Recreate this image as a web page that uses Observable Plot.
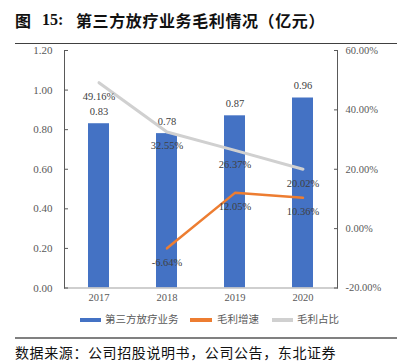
<!DOCTYPE html>
<html><head><meta charset="utf-8">
<script src="https://cdn.jsdelivr.net/npm/d3@7"></script>
<script src="https://cdn.jsdelivr.net/npm/@observablehq/plot@0.6"></script>
<style>
body{margin:0;background:#fff;}
#wrap{position:relative;width:402px;height:361px;overflow:hidden;font-family:"Noto Sans CJK SC",sans-serif;}
.abs{position:absolute;white-space:nowrap;line-height:1;}
#chart{position:absolute;left:0;top:44px;}
.sw{position:absolute;height:4px;}
.lg{position:absolute;font-size:10.5px;color:#595959;top:313.5px;line-height:1;white-space:nowrap;}
</style></head><body>
<div id="wrap">
  <div class="abs" style="left:15px;top:11.5px;font-size:16px;font-weight:bold;color:#111;">图</div>
  <div class="abs" style="left:42px;top:12px;font-size:16px;font-weight:bold;font-family:'Liberation Serif',serif;color:#111;">15:</div>
  <div class="abs" style="left:76px;top:11.5px;font-size:16px;font-weight:bold;color:#111;letter-spacing:0.6px;">第三方放疗业务毛利情况（亿元）</div>
  <div class="abs" style="left:15px;top:42.5px;width:382px;height:1.5px;background:#404040;"></div>
  <div id="chart"></div>
  <div class="sw" style="left:80px;top:317.5px;width:21px;background:#4472C4;"></div>
  <div class="lg" style="left:105px;">第三方放疗业务</div>
  <div class="sw" style="left:190px;top:317.5px;width:22px;background:#ED7D31;"></div>
  <div class="lg" style="left:217px;">毛利增速</div>
  <div class="sw" style="left:272px;top:317.5px;width:21px;background:#D0D0D0;"></div>
  <div class="lg" style="left:297px;">毛利占比</div>
  <div class="abs" style="left:15px;top:337px;width:382px;height:1.5px;background:#808080;"></div>
  <div class="abs" style="left:15px;top:345px;font-size:14px;letter-spacing:0.6px;color:#111;">数据来源：公司招股说明书，公司公告，东北证券</div>
</div>
<script>
const years = ["2017", "2018", "2019", "2020"];
const grossProfit = [0.83, 0.78, 0.87, 0.96];
const growthPct = [null, -6.64, 12.05, 10.36];
const sharePct = [49.16, 32.55, 26.37, 20.02];
const leftTicks = [0, 0.2, 0.4, 0.6, 0.8, 1.0, 1.2];
const rightTicks = [-20, 0, 20, 40, 60];

const toY = p => (p + 20) / 80 * 1.2;
const barData = years.map((y, i) => ({year: y, v: grossProfit[i]}));
const growthData = years.map((y, i) => ({year: y, p: growthPct[i]})).filter(d => d.p != null);
const shareData = years.map((y, i) => ({year: y, p: sharePct[i]}));

const chart = Plot.plot({
  width: 402,
  height: 266,
  marginLeft: 64,
  marginRight: 65,
  marginTop: 6,
  marginBottom: 22.5,
  style: {fontFamily: "'Liberation Serif', serif", fontSize: "10.5px", background: "transparent"},
  x: {domain: years, paddingInner: 0.69, paddingOuter: 0.345, label: null},
  y: {domain: [0, 1.2], label: null},
  marks: [
    Plot.barY(barData, {x: "year", y: "v", fill: "#4472C4"}),
    Plot.ruleY([0], {stroke: "#bfbfbf", strokeWidth: 1.5}),
    Plot.frame({anchor: "left", stroke: "#595959"}),
    Plot.frame({anchor: "right", stroke: "#595959"}),
    Plot.line(shareData, {x: "year", y: d => toY(d.p), stroke: "#D0D0D0", strokeWidth: 3}),
    Plot.line(growthData, {x: "year", y: d => toY(d.p), stroke: "#ED7D31", strokeWidth: 2.5}),
    Plot.text(barData, {x: "year", y: "v", text: d => d.v.toFixed(2), dy: -12, fill: "#404040"}),
    Plot.text(shareData, {x: "year", y: d => toY(d.p), text: d => d.p.toFixed(2) + "%", dy: 14, fill: "#404040"}),
    Plot.text(growthData, {x: "year", y: d => toY(d.p), text: d => d.p.toFixed(2) + "%", dy: 14, fill: "#404040"}),
    Plot.axisY({anchor: "left", ticks: leftTicks, tickFormat: d3.format(".2f"), tickSize: -4, tickPadding: 16, fontSize: 11, color: "#595959", label: null}),
    Plot.axisY({anchor: "right", ticks: rightTicks.map(toY), tickFormat: v => (Math.round((v / 1.2 * 80 - 20) * 100) / 100).toFixed(2) + "%", tickSize: -4, tickPadding: 12, color: "#595959", label: null}),
    Plot.axisX({tickSize: 0, tickPadding: 6, color: "#595959", label: null})
  ]
});
document.getElementById("chart").appendChild(chart);
</script>
</body></html>
